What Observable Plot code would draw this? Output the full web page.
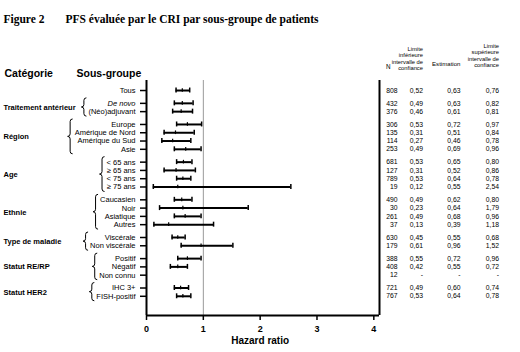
<!DOCTYPE html>
<html><head><meta charset="utf-8">
<script src="https://cdn.jsdelivr.net/npm/d3@7"></script>
<script src="https://cdn.jsdelivr.net/npm/@observablehq/plot@0.6"></script>
<style>body{margin:0;background:#fff;} svg{display:block}</style>
</head><body><div id="chart"></div>
<script>
const categories = ["", "Traitement antérieur", "Région", "Age", "Ethnie", "Type de maladie", "Statut RE/RP", "Statut HER2"];
const subgroups = [
  ["Tous"],
  ["De novo", "(Néo)adjuvant"],
  ["Europe", "Amérique de Nord", "Amérique du Sud", "Asie"],
  ["< 65 ans", "≥ 65 ans", "< 75 ans", "≥ 75 ans"],
  ["Caucasien", "Noir", "Asiatique", "Autres"],
  ["Viscérale", "Non viscérale"],
  ["Positif", "Négatif", "Non connu"],
  ["IHC 3+", "FISH-positif"]
];
const italicLabels = ["De novo"];
const nValues = [808, 432, 376, 306, 135, 114, 253, 681, 127, 789, 19, 490, 30, 261, 37, 630, 179, 388, 408, 12, 721, 767];
const lowerCI = [0.52, 0.49, 0.46, 0.53, 0.31, 0.27, 0.49, 0.53, 0.31, 0.53, 0.12, 0.49, 0.23, 0.49, 0.13, 0.45, 0.61, 0.55, 0.42, null, 0.49, 0.53];
const estimate = [0.63, 0.63, 0.61, 0.72, 0.51, 0.46, 0.69, 0.65, 0.52, 0.64, 0.55, 0.62, 0.64, 0.68, 0.39, 0.55, 0.96, 0.72, 0.55, null, 0.60, 0.64];
const upperCI = [0.76, 0.82, 0.81, 0.97, 0.84, 0.78, 0.96, 0.80, 0.86, 0.78, 2.54, 0.80, 1.79, 0.96, 1.18, 0.68, 1.52, 0.96, 0.72, null, 0.74, 0.78];
const xTicks = [0, 1, 2, 3, 4];
const title1 = "Figure 2";
const title2 = "PFS évaluée par le CRI par sous-groupe de patients";
const headLower = "Limite\ninférieure\nintervalle de\nconfiance";
const headUpper = "Limite\nsupérieure\nintervalle de\nconfiance";

// layout
const GAP = 0.55;
const rows = [];
let k = 0;
subgroups.forEach((list, g) => list.forEach(label => {
  rows.push({label, group: g, pos: k + g * GAP, n: nValues[k], lo: lowerCI[k], est: estimate[k], hi: upperCI[k]});
  k++;
}));
const groups = [];
for (let g = 1; g < categories.length; g++) {
  const r = rows.filter(d => d.group === g);
  groups.push({category: categories[g], first: r[0].pos, last: r[r.length - 1].pos, mid: (r[0].pos + r[r.length - 1].pos) / 2, labels: r.map(d => d.label)});
}
const yMin = -1.21, yMax = rows[rows.length - 1].pos + 2.32;
const xMax = 4.1;
const fmt = v => v == null ? "-" : d3.format(".2f")(v).replace(".", ",");
const valid = rows.filter(d => d.lo != null);
const FONT = "Liberation Sans, Arial, Helvetica, sans-serif";
const LABEL_FS = 7.5;

const ctx = document.createElement("canvas").getContext("2d");
function textW(s, italic) { ctx.font = (italic ? "italic " : "") + LABEL_FS + "px " + FONT; return ctx.measureText(s).width; }

function braces(index, scales, values, dimensions) {
  const y = typeof scales.y === "function" ? scales.y : scales.scales.y.apply;
  const labelRight = dimensions.marginLeft - 11;
  const g = d3.create("svg:g").attr("fill", "none").attr("stroke", "black").attr("stroke-width", 1);
  for (const b of groups) {
    const w = d3.max(b.labels, l => textW(l, italicLabels.includes(l)));
    const x = labelRight - w - 4;
    const t = y(b.first) - 5, bo = y(b.last) + 5, m = (t + bo) / 2;
    const h = 2.5;
    const p = `M${x + h},${t} Q${x},${t} ${x},${t + h} L${x},${m - h} Q${x},${m} ${x - h},${m} Q${x},${m} ${x},${m + h} L${x},${bo - h} Q${x},${bo} ${x + h},${bo}`;
    g.append("path").attr("d", p);
  }
  return g.node();
}

const chart = Plot.plot({
  width: 520, height: 352,
  marginLeft: 146, marginRight: 141, marginTop: 80, marginBottom: 37,
  style: {fontFamily: FONT, background: "#fff", color: "#000"},
  x: {domain: [0, xMax], label: null},
  y: {domain: [yMin, yMax], reverse: true, label: null},
  marks: [
    Plot.ruleX([1], {stroke: "#999", strokeWidth: 1}),
    Plot.ruleX([0], {strokeWidth: 2}),
    Plot.ruleX([xMax], {strokeWidth: 2}),
    Plot.ruleY([yMax], {strokeWidth: 2}),
    Plot.axisY(rows.map(d => d.pos), {anchor: "left", tickSize: 6, tickPadding: 5, tickFormat: () => "", strokeWidth: 1.5, label: null}),
    Plot.axisX(xTicks, {anchor: "bottom", tickSize: 5, tickPadding: 5, fontSize: 9, fontWeight: "bold", strokeWidth: 1.5, label: null, fill: "#000"}),
    Plot.text(["Hazard ratio"], {x: 2, frameAnchor: "bottom", dy: 28, fontSize: 10, fontWeight: "bold", fill: "#000"}),
    // CI
    Plot.ruleY(valid, {y: "pos", x1: "lo", x2: "hi", strokeWidth: 2}),
    Plot.ruleX(valid, {x: "lo", y1: d => d.pos - 0.3, y2: d => d.pos + 0.3, strokeWidth: 1.5}),
    Plot.ruleX(valid, {x: "hi", y1: d => d.pos - 0.3, y2: d => d.pos + 0.3, strokeWidth: 1.5}),
    Plot.ruleX(valid, {x: "est", y1: d => d.pos - 0.22, y2: d => d.pos + 0.22, strokeWidth: 1.2}),
    // row labels
    Plot.text(rows.filter(d => !italicLabels.includes(d.label)), {y: "pos", text: "label", frameAnchor: "left", dx: -11, textAnchor: "end", fontSize: LABEL_FS, fill: "#000"}),
    Plot.text(rows.filter(d => italicLabels.includes(d.label)), {y: "pos", text: "label", frameAnchor: "left", dx: -11, textAnchor: "end", fontSize: LABEL_FS, fontStyle: "italic", fill: "#000"}),
    Plot.text(groups, {y: "mid", text: "category", frameAnchor: "left", dx: -143, textAnchor: "start", fontSize: 7.5, fontWeight: "bold", fill: "#000"}),
    braces,
    // value columns
    Plot.text(rows, {y: "pos", text: d => String(d.n), frameAnchor: "right", dx: 18, textAnchor: "end", fontSize: 6.8, fill: "#000"}),
    Plot.text(rows, {y: "pos", text: d => fmt(d.lo), frameAnchor: "right", dx: 43.5, fontSize: 6.8, fill: "#000"}),
    Plot.text(rows, {y: "pos", text: d => fmt(d.est), frameAnchor: "right", dx: 81, fontSize: 6.8, fill: "#000"}),
    Plot.text(rows, {y: "pos", text: d => fmt(d.hi), frameAnchor: "right", dx: 119.5, fontSize: 6.8, fill: "#000"}),
    // headers
    Plot.text(["N"], {frameAnchor: "top-right", dx: 11, dy: -16, fontSize: 6.3, fill: "#000"}),
    Plot.text([headLower], {frameAnchor: "top-right", dx: 43.5, dy: -22, lineAnchor: "middle", fontSize: 5.8, lineHeight: 1.12, fill: "#000"}),
    Plot.text(["Estimation"], {frameAnchor: "top-right", dx: 81, dy: -19, fontSize: 6.1, fill: "#000"}),
    Plot.text([headUpper], {frameAnchor: "top-right", dx: 119.5, dy: -25, lineAnchor: "middle", fontSize: 5.8, lineHeight: 1.12, fill: "#000"}),
    Plot.text(["Catégorie"], {frameAnchor: "top-left", dx: -142, dy: -11, textAnchor: "start", fontSize: 10.5, fontWeight: "bold", fill: "#000"}),
    Plot.text(["Sous-groupe"], {frameAnchor: "top-left", dx: -70, dy: -11, textAnchor: "start", fontSize: 10.5, fontWeight: "bold", fill: "#000"}),
    Plot.text([title1], {frameAnchor: "top-left", dx: -143, dy: -66, textAnchor: "start", fontSize: 11.5, fontWeight: "bold", fill: "#000", fontFamily: "Liberation Serif, Times New Roman, serif"}),
    Plot.text([title2], {frameAnchor: "top-left", dx: -81, dy: -66, textAnchor: "start", fontSize: 11.5, fontWeight: "bold", fill: "#000", fontFamily: "Liberation Serif, Times New Roman, serif"})
  ]
});
document.getElementById("chart").appendChild(chart);
</script>
</body></html>
